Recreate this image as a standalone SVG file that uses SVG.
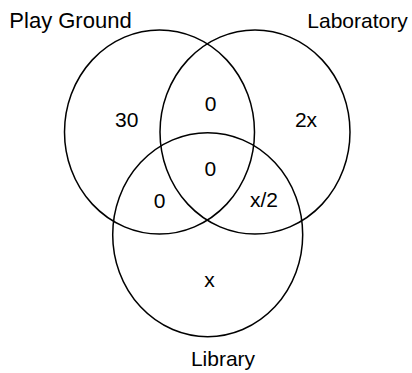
<svg xmlns="http://www.w3.org/2000/svg" width="412" height="373" viewBox="0 0 412 373">
<style>
.c{fill:none;stroke:#000;stroke-width:1.5}
.t{font-family:"Liberation Sans",Arial,sans-serif;font-size:21px;fill:#000;text-anchor:middle}
</style>
<rect width="412" height="373" fill="#fff"/>
<g id="playground">
<ellipse class="c" cx="159.5" cy="132" rx="95" ry="102"/>
<text class="t" x="70.5" y="28" style="font-size:22px">Play Ground</text>
</g>
<g id="laboratory">
<ellipse class="c" cx="255" cy="132" rx="95" ry="102"/>
<text class="t" x="357.5" y="28">Laboratory</text>
</g>
<g id="library">
<ellipse class="c" cx="207.7" cy="234.7" rx="95" ry="102"/>
<text class="t" x="223" y="366">Library</text>
</g>
<g id="values">
<text class="t" x="126.7" y="126.7">30</text>
<text class="t" x="210.7" y="110.7">0</text>
<text class="t" x="306" y="126.7">2x</text>
<text class="t" x="210.3" y="176">0</text>
<text class="t" x="159.7" y="208">0</text>
<text class="t" x="264" y="207">x/2</text>
<text class="t" x="209.5" y="287">x</text>
</g>
<g id="connectors"></g>
</svg>
